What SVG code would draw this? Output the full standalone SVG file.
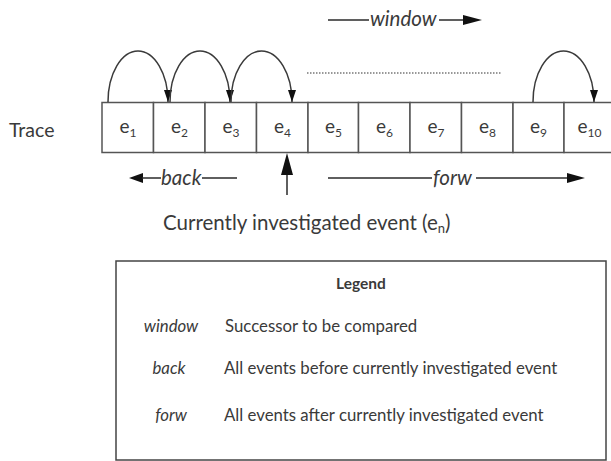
<svg xmlns="http://www.w3.org/2000/svg" width="611" height="461" viewBox="0 0 611 461">
<style>
  text { font-family: Lato, "Open Sans", "Liberation Sans", sans-serif; fill: #3a3a3a; }
  .box { fill: #ffffff; stroke: #555555; stroke-width: 1.5; }
  .lbl { font-size: 19px; text-anchor: middle; }
  .sub { font-size: 12px; }
  .big { font-size: 20.5px; }
  .it { font-style: italic; }
  .leg { font-size: 16.8px; }
  .line { stroke: #2a2a2a; stroke-width: 1.5; fill: none; }
  .arc { stroke: #3a3a3a; stroke-width: 1.5; fill: none; marker-end: url(#ah); }
  .head { fill: #111111; }
</style>
<defs>
  <marker id="ah" markerUnits="userSpaceOnUse" markerWidth="12" markerHeight="20" viewBox="0 0 18 12" refX="18" refY="6" orient="auto">
    <path d="M0,0 L18,6 L0,12 Z" fill="#111111"/>
  </marker>
</defs>
<rect width="611" height="461" fill="#ffffff"/>

<g id="trace-label"><text x="9" y="137" font-size="19.5">Trace</text></g>

<g id="trace">
  <g id="e1"><rect class="box" x="102" y="102.5" width="51.5" height="50"/><text class="lbl" x="128" y="133">e<tspan class="sub" dy="4">1</tspan></text></g>
  <g id="e2"><rect class="box" x="153.5" y="102.5" width="51.5" height="50"/><text class="lbl" x="179.5" y="133">e<tspan class="sub" dy="4">2</tspan></text></g>
  <g id="e3"><rect class="box" x="205" y="102.5" width="51.5" height="50"/><text class="lbl" x="231" y="133">e<tspan class="sub" dy="4">3</tspan></text></g>
  <g id="e4"><rect class="box" x="256.5" y="102.5" width="51.5" height="50"/><text class="lbl" x="282.5" y="133">e<tspan class="sub" dy="4">4</tspan></text></g>
  <g id="e5"><rect class="box" x="308" y="102.5" width="50.5" height="50"/><text class="lbl" x="333.5" y="133">e<tspan class="sub" dy="4">5</tspan></text></g>
  <g id="e6"><rect class="box" x="358.5" y="102.5" width="51.5" height="50"/><text class="lbl" x="384.5" y="133">e<tspan class="sub" dy="4">6</tspan></text></g>
  <g id="e7"><rect class="box" x="410" y="102.5" width="51.5" height="50"/><text class="lbl" x="436" y="133">e<tspan class="sub" dy="4">7</tspan></text></g>
  <g id="e8"><rect class="box" x="461.5" y="102.5" width="51.5" height="50"/><text class="lbl" x="487.5" y="133">e<tspan class="sub" dy="4">8</tspan></text></g>
  <g id="e9"><rect class="box" x="513" y="102.5" width="51" height="50"/><text class="lbl" x="538.5" y="133">e<tspan class="sub" dy="4">9</tspan></text></g>
  <g id="e10"><rect class="box" x="564" y="102.5" width="52" height="50"/><text class="lbl" x="589.5" y="133">e<tspan class="sub" dy="4">10</tspan></text></g>
</g>

<g id="connectors">
  <path class="arc" d="M108,102 A30,51 0 0 1 168,102"/>
  <path class="arc" d="M170,102 A30,51 0 0 1 230,102"/>
  <path class="arc" d="M231,102 A30.5,51 0 0 1 292,102"/>
  <path class="arc" d="M533,102 A30.5,51 0 0 1 594,102"/>
  <line x1="307" y1="73" x2="501" y2="73" stroke="#777777" stroke-width="1.5" stroke-dasharray="1.5,1.5"/>

  <g id="window-arrow">
    <line class="line" x1="328" y1="20" x2="369" y2="20"/>
    <line class="line" x1="439" y1="20" x2="465" y2="20"/>
    <path class="head" d="M463,15 L482,20 L463,25 Z"/>
  </g>
  <g id="back-arrow">
    <path class="head" d="M143,173 L129,178 L143,183 Z"/>
    <line class="line" x1="142" y1="178" x2="161" y2="178"/>
    <line class="line" x1="202" y1="178" x2="237" y2="178"/>
  </g>
  <g id="forw-arrow">
    <line class="line" x1="328" y1="178" x2="432" y2="178"/>
    <line class="line" x1="476" y1="178" x2="568" y2="178"/>
    <path class="head" d="M567,173 L585,178 L567,183 Z"/>
  </g>
  <g id="current-arrow">
    <line class="line" x1="287" y1="195" x2="287" y2="174"/>
    <path class="head" d="M281,175 L287,153 L293,175 Z"/>
  </g>
</g>

<g id="arrow-labels">
  <text class="big it" x="370" y="26">window</text>
  <text class="big it" x="161" y="185">back</text>
  <text class="big it" x="433" y="185">forw</text>
  <text class="big" x="163" y="230">Currently investigated event (e<tspan font-size="13" dy="3">n</tspan><tspan dy="-3">)</tspan></text>
</g>

<g id="legend">
  <rect x="116" y="261" width="490" height="199" fill="#ffffff" stroke="#444444" stroke-width="1.5"/>
  <text x="361" y="289" font-size="15.5" font-weight="bold" text-anchor="middle">Legend</text>
  <text class="leg it" x="171" y="332" text-anchor="middle">window</text>
  <text class="leg" x="225" y="332">Successor to be compared</text>
  <text class="leg it" x="169" y="374" text-anchor="middle">back</text>
  <text class="leg" x="224" y="374">All events before currently investigated event</text>
  <text class="leg it" x="171" y="421" text-anchor="middle">forw</text>
  <text class="leg" x="224" y="421">All events after currently investigated event</text>
</g>
</svg>
